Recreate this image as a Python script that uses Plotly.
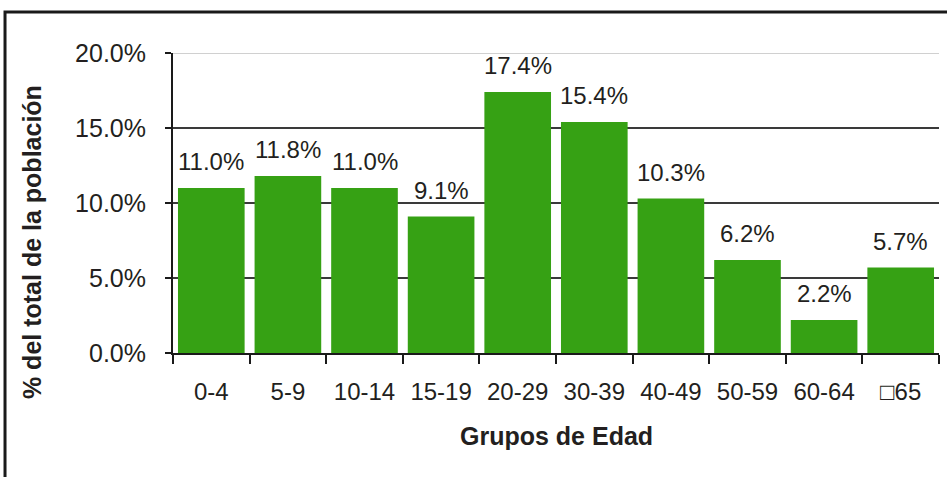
import plotly.graph_objects as go

categories = ["0-4", "5-9", "10-14", "15-19", "20-29", "30-39", "40-49", "50-59", "60-64", "\u25a165"]
values = [11.0, 11.8, 11.0, 9.1, 17.4, 15.4, 10.3, 6.2, 2.2, 5.7]
labels = ["11.0%", "11.8%", "11.0%", "9.1%", "17.4%", "15.4%", "10.3%", "6.2%", "2.2%", "5.7%"]
y_ticks = [0, 5, 10, 15, 20]
y_tick_labels = ["0.0%", "5.0%", "10.0%", "15.0%", "20.0%"]

TXT = "#231f20"
SANS = "Liberation Sans, Arial, sans-serif"

fig = go.Figure()
fig.add_trace(go.Bar(
    x=categories, y=values,
    marker=dict(color="#36a114", line=dict(width=0)),
    hoverinfo="skip",
))

for c, v, t in zip(categories, values, labels):
    fig.add_annotation(x=c, y=v, text=t, showarrow=False, yanchor="bottom",
                       yshift=11, font=dict(family=SANS, size=24, color=TXT))

# light top border line at 20%
fig.add_shape(type="line", xref="paper", yref="y", x0=0, x1=1, y0=20, y1=20,
              line=dict(color="#c0c0c0", width=1.5), layer="above")

# outer frame
fig.add_shape(type="rect", xref="paper", yref="paper",
              x0=-0.2193, x1=1.1, y0=-0.5, y1=1.1367,
              line=dict(color="#1a1a1a", width=3), fillcolor="rgba(0,0,0,0)")

fig.add_annotation(xref="paper", yref="paper", x=-0.184, y=0.37, xanchor="center", yanchor="middle",
                   text="<b>% del total de la población</b>",
                   textangle=-90, showarrow=False, font=dict(family=SANS, size=25, color=TXT))
fig.add_annotation(xref="paper", yref="paper", x=0.5, y=-0.277, xanchor="center", yanchor="middle",
                   text="<b>Grupos de Edad</b>",
                   showarrow=False, font=dict(family=SANS, size=25, color=TXT))

fig.update_layout(
    width=947, height=477,
    margin=dict(l=173, r=8, t=53, b=124, autoexpand=False),
    paper_bgcolor="white", plot_bgcolor="white",
    bargap=0.13,
    showlegend=False,
    xaxis=dict(
        type="category", tickson="boundaries", ticks="outside", ticklen=9, tickwidth=1.5,
        tickcolor="#1a1a1a", showline=True, linecolor="#1a1a1a", linewidth=2,
        showgrid=False, tickfont=dict(family=SANS, size=24, color=TXT),
        tickangle=0, ticklabelstandoff=16, automargin=False,
    ),
    yaxis=dict(
        range=[0, 20], tickvals=y_ticks, ticktext=y_tick_labels,
        ticks="outside", ticklen=6, tickwidth=1.5, tickcolor="#1a1a1a",
        showline=True, linecolor="#1a1a1a", linewidth=2,
        showgrid=True, gridcolor="#3a3a3a", gridwidth=1.5, zeroline=False,
        tickfont=dict(family=SANS, size=25, color=TXT), ticklabelstandoff=14,
        automargin=False,
    ),
)

fig.write_html("out.html", config={"displayModeBar": False},
               post_script="document.body.style.margin='0';")
